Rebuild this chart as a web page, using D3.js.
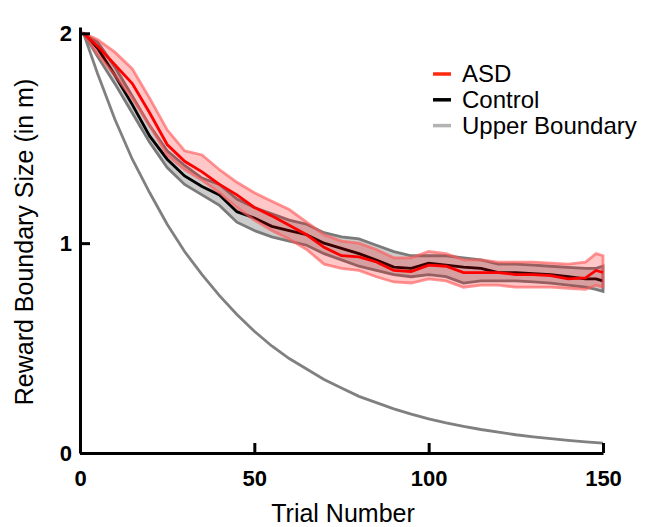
<!DOCTYPE html>
<html>
<head>
<meta charset="UTF-8">
<script src="https://cdn.jsdelivr.net/npm/d3@7/dist/d3.min.js"></script>
<style>
body { margin: 0; background: #fff; }
svg { font-family: "Liberation Sans", Arial, Helvetica, sans-serif; }
.axis path, .axis line { stroke: #000; stroke-width: 3px; }
.axis text { font-size: 22px; font-weight: bold; fill: #000; }
.band { stroke-width: 2.8px; }
.mean { fill: none; stroke-width: 2.8px; }
</style>
</head>
<body>
<svg id="chart" width="647" height="527"></svg>
<script>
var trials = [1, 5, 10, 15, 20, 25, 30, 35, 40, 45, 50, 55, 60, 65, 70, 75, 80, 85, 90, 95,
  100, 105, 110, 115, 120, 125, 130, 135, 140, 145, 148, 150];

var asdMean = [2.00, 1.94, 1.85, 1.76, 1.62, 1.47, 1.39, 1.34, 1.28, 1.23, 1.17, 1.13, 1.085, 1.04, 0.98, 0.94,
  0.935, 0.91, 0.87, 0.865, 0.895, 0.89, 0.86, 0.86, 0.86, 0.85, 0.85, 0.845, 0.83, 0.835, 0.87, 0.86];
var asdHi = [2.00, 1.97, 1.91, 1.83, 1.69, 1.54, 1.44, 1.42, 1.35, 1.29, 1.24, 1.20, 1.16, 1.10, 1.04, 1.01,
  1.00, 0.97, 0.93, 0.93, 0.96, 0.95, 0.92, 0.92, 0.91, 0.91, 0.91, 0.905, 0.90, 0.91, 0.95, 0.94];
var asdLo = [2.00, 1.90, 1.80, 1.69, 1.56, 1.42, 1.35, 1.30, 1.24, 1.17, 1.11, 1.06, 1.02, 0.97, 0.90, 0.88,
  0.87, 0.84, 0.815, 0.81, 0.83, 0.82, 0.79, 0.80, 0.80, 0.79, 0.79, 0.79, 0.785, 0.78, 0.80, 0.79];

var ctlMean = [2.00, 1.93, 1.80, 1.66, 1.51, 1.40, 1.32, 1.27, 1.23, 1.15, 1.12, 1.08, 1.06, 1.04, 1.00, 0.975,
  0.95, 0.92, 0.886, 0.88, 0.905, 0.895, 0.886, 0.88, 0.86, 0.86, 0.855, 0.85, 0.84, 0.83, 0.83, 0.82];
var ctlHi = [2.00, 1.96, 1.84, 1.70, 1.56, 1.44, 1.37, 1.31, 1.28, 1.21, 1.17, 1.14, 1.11, 1.09, 1.05, 1.03,
  1.02, 0.99, 0.96, 0.94, 0.94, 0.94, 0.93, 0.92, 0.90, 0.90, 0.895, 0.89, 0.885, 0.88, 0.88, 0.89];
var ctlLo = [2.00, 1.89, 1.76, 1.62, 1.48, 1.36, 1.28, 1.23, 1.18, 1.10, 1.06, 1.03, 1.01, 0.99, 0.95, 0.92,
  0.89, 0.87, 0.85, 0.84, 0.85, 0.84, 0.81, 0.82, 0.82, 0.82, 0.815, 0.81, 0.80, 0.79, 0.78, 0.77];

var upperBound = [2.00, 1.81, 1.59, 1.40, 1.24, 1.09, 0.96, 0.85, 0.75, 0.66, 0.58, 0.51, 0.45, 0.40, 0.35, 0.31,
  0.27, 0.24, 0.21, 0.185, 0.163, 0.144, 0.127, 0.112, 0.099, 0.087, 0.077, 0.068, 0.060, 0.053, 0.049, 0.047];

var xTicks = [0, 50, 100, 150];
var yTicks = [0, 1, 2];
var legendLabels = ["ASD", "Control", "Upper Boundary"];
var legendColors = ["#ff2a10", "#000000", "#b3b3b3"];

var svg = d3.select("#chart");
var x = d3.scaleLinear().domain([0, 150]).range([80, 603]);
var y = d3.scaleLinear().domain([0, 2.03]).range([453, 27]);

var rows = function(mean, lo, hi) {
  return trials.map(function(t, i) { return {t: t, m: mean[i], lo: lo[i], hi: hi[i]}; });
};
var asd = rows(asdMean, asdLo, asdHi),
  ctl = rows(ctlMean, ctlLo, ctlHi),
  bound = trials.map(function(t, i) { return {t: t, m: upperBound[i]}; });

var area = d3.area()
  .x(function(d) { return x(d.t); })
  .y0(function(d) { return y(d.lo); })
  .y1(function(d) { return y(d.hi); });
var line = d3.line()
  .x(function(d) { return x(d.t); })
  .y(function(d) { return y(d.m); });

// upper boundary
svg.append("path").datum(bound)
  .attr("class", "mean")
  .attr("stroke", "#808080")
  .attr("d", line);

// control band + mean
svg.append("path").datum(ctl)
  .attr("class", "band")
  .attr("fill", "#cccccc")
  .attr("stroke", "#7a7a7a")
  .attr("d", area);
svg.append("path").datum(ctl)
  .attr("class", "mean")
  .attr("stroke", "#000")
  .attr("d", line);

// ASD band + mean, band drawn see-through over control
svg.append("path").datum(asd)
  .attr("class", "band")
  .attr("fill", "rgba(255,0,0,0.22)")
  .attr("stroke", "rgba(255,90,90,0.65)")
  .attr("d", area);
svg.append("path").datum(asd)
  .attr("class", "mean")
  .attr("stroke", "#ff0000")
  .attr("d", line);

svg.append("g")
  .attr("class", "axis")
  .attr("transform", "translate(0,453)")
  .call(d3.axisBottom(x).tickValues(xTicks).tickFormat(d3.format("d"))
    .tickSizeInner(-10).tickSizeOuter(0).tickPadding(17));
svg.append("g")
  .attr("class", "axis")
  .attr("transform", "translate(80,0)")
  .call(d3.axisLeft(y).tickValues(yTicks).tickFormat(d3.format("d"))
    .tickSizeInner(-10).tickSizeOuter(0).tickPadding(8));

svg.append("text")
  .attr("x", 343).attr("y", 522)
  .attr("text-anchor", "middle")
  .attr("font-size", 25)
  .text("Trial Number");
svg.append("text")
  .attr("transform", "translate(33,242) rotate(-90)")
  .attr("text-anchor", "middle")
  .attr("font-size", 25)
  .text("Reward Boundary Size (in m)");

var legend = svg.append("g").attr("transform", "translate(433,74)");
legendLabels.forEach(function(lab, i) {
  var g = legend.append("g").attr("transform", "translate(0," + (i * 25.8) + ")");
  g.append("line")
    .attr("x1", 0).attr("x2", 18)
    .attr("stroke", legendColors[i])
    .attr("stroke-width", 3.5);
  g.append("text")
    .attr("x", 29).attr("y", 8)
    .attr("font-size", 24)
    .text(lab);
});
</script>
</body>
</html>
